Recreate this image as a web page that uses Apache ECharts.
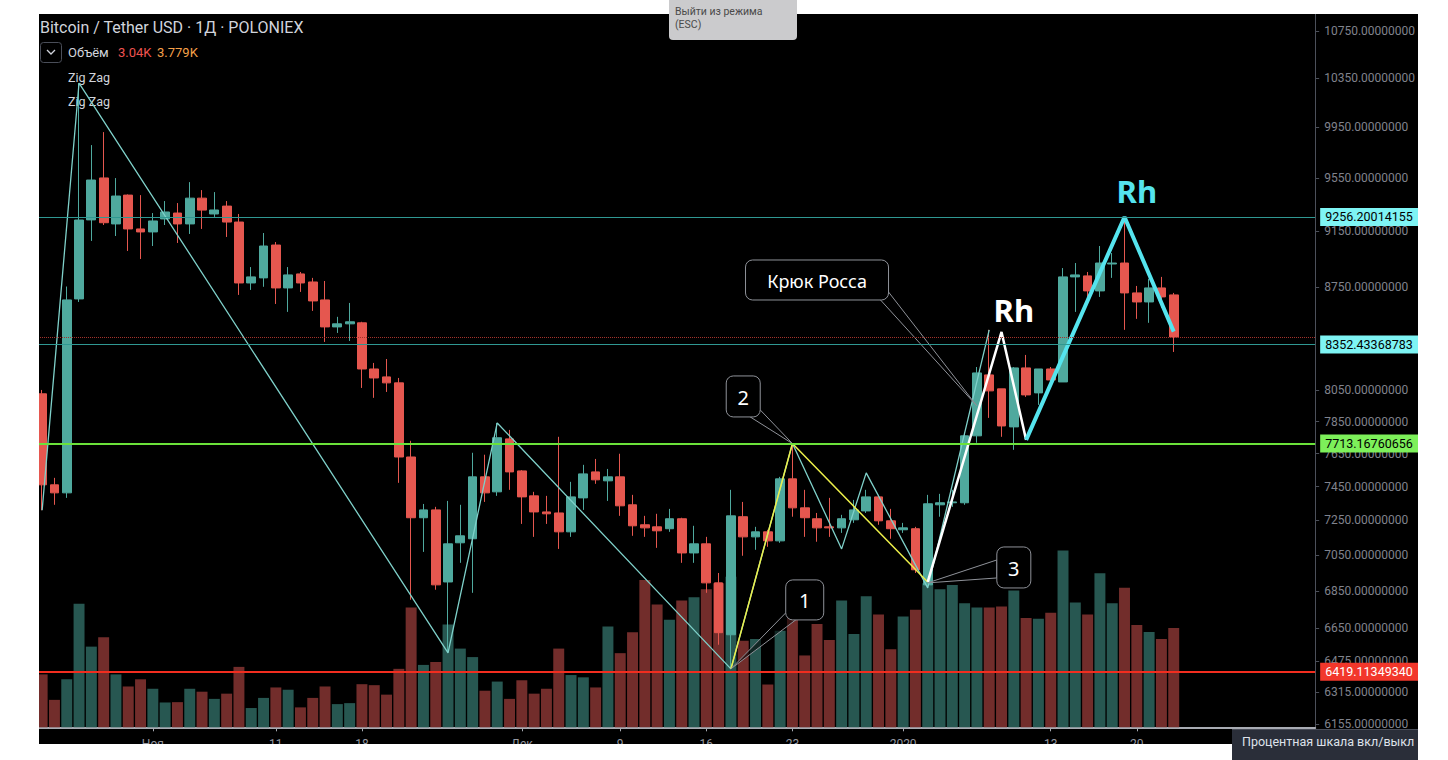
<!DOCTYPE html>
<html><head><meta charset="utf-8">
<script src="https://cdn.jsdelivr.net/npm/echarts@6/dist/echarts.min.js"></script>
<style>
html,body{margin:0;padding:0;background:#fff;width:1448px;height:760px;overflow:hidden;font-family:Roboto,"Noto Sans",sans-serif}
#pane{position:absolute;left:39px;top:14px;width:1379px;height:730px;overflow:hidden;background:#000}
#chart{position:absolute;left:-3px;top:0;width:1382px;height:760px}
#esc{position:absolute;left:669px;top:0;width:128px;height:40px;background:#cbcbcd;border-radius:0 0 4px 4px;color:#4a4a4a;font-size:10.5px;line-height:12.5px;padding:6px 0 0 6px;box-sizing:border-box}
#tip{position:absolute;left:1232px;top:729px;width:186px;height:31px;background:#2a2e39;color:#dfe2ea;font-size:12.5px;line-height:24px;padding-left:10px;box-sizing:border-box;border-top:1px solid #4a4e5a}
</style></head>
<body>
<div id="pane"><div id="chart"></div></div>
<div id="esc">Выйти из режима<br>(ESC)</div>
<div id="tip">Процентная шкала вкл/выкл</div>
<script>
// ---- categories (days shown on the time axis) ----
const dates = [];
(function(){ const s = Date.UTC(2019, 9, 23); for (let i = 0; i < 104; i++) dates.push(new Date(s + i * 864e5).toISOString().slice(0, 10)); })();
const xTickDates  = ['2019-11-01','2019-11-11','2019-11-18','2019-12-01','2019-12-09','2019-12-16','2019-12-23','2020-01-01','2020-01-13','2020-01-20'];
const xTickLabels = ['Ноя','11','18','Дек','9','16','23','2020','13','20'];
const yTickValues = [10750,10350,9950,9550,9150,8750,8050,7850,7650,7450,7250,7050,6850,6650,6475,6315,6155];

// ---- daily candles, Oct 23 2019 .. Jan 23 2020 ----
const opens = [8028,7461,7413,8665,9234,9551,9204,9420,9167,9145,
  9241,9285,9204,9397,9278,9337,9218,8777,8813,9049,
  8742,8841,8784,8658,8472,8493,8500,8190,8138,8099,
  7630,7266,7312,6900,7121,7144,7509,7419,7742,7545,
  7395,7300,7294,7184,7383,7539,7485,7509,7342,7225,
  7213,7202,7260,7063,7115,6895,6613,7272,7155,7184,
  7132,7497,7324,7260,7213,7207,7254,7306,7389,7248,
  7196,7202,6884,7342,7354,7354,7761,8151,8060,7817,
  8197,8034,8190,8105,8820,8827,8721,8912,8919,8707,
  8644,8742,8693];
const highs = [8053,7503,8752,10309,9807,9910,9550,9425,9420,9285,
  9375,9360,9519,9458,9443,9375,9278,8890,9137,9071,
  8890,8855,8813,8791,8541,8637,8507,8230,8256,8131,
  7730,7347,7330,7365,7342,7656,7644,7842,7798,7550,
  7419,7395,7755,7479,7582,7618,7557,7650,7401,7277,
  7289,7318,7266,7219,7155,6950,7431,7359,7213,7196,
  7509,7713,7431,7294,7383,7283,7371,7431,7401,7318,
  7236,7213,7401,7407,7431,7780,8203,8452,8060,8203,
  8283,8190,8203,8883,8919,8855,9042,8991,9256,8756,
  8806,8820,8707];
const lows = [7310,7342,7383,8644,9079,9196,9115,9006,8948,9042,
  9196,9064,9130,9167,9256,9108,8693,8728,8750,8630,
  8575,8714,8582,8370,8431,8377,8066,8002,8040,7473,
  6802,7069,6857,6517,7007,6840,7359,7395,7431,7230,
  7155,7230,7086,7155,7312,7467,7365,7277,7161,7155,
  7092,7184,7007,7007,6840,6560,6434,7047,7081,7098,
  7121,7272,7155,7127,7155,7178,7236,7294,7225,7144,
  7178,6950,6867,7272,7330,7342,7718,7874,7755,7674,
  8008,7957,8105,8105,8575,8679,8679,8813,8452,8527,
  8500,8603,8303];
const closes = [7461,7413,8658,9233,9535,9213,9413,9167,9145,9226,
  9293,9204,9397,9307,9308,9218,8777,8820,9042,8742,
  8834,8777,8651,8472,8493,8507,8190,8131,8099,7630,
  7266,7312,6884,7115,7161,7509,7413,7749,7539,7389,
  7300,7289,7184,7389,7527,7491,7509,7336,7219,7207,
  7190,7260,7063,7115,6895,6624,7277,7155,7184,7132,
  7497,7324,7266,7207,7207,7260,7312,7389,7248,7202,
  7207,6968,7348,7354,7359,7761,8164,8047,7823,8197,
  8021,8190,8118,8820,8834,8721,8919,8919,8707,8644,
  8742,8679,8404];
// volume, thousands
const volumes = [1.62,0.84,1.47,3.78,2.47,2.76,1.62,1.25,1.47,1.18,
  0.76,0.77,1.18,1.09,0.87,1.03,1.85,0.59,0.90,1.22,
  1.15,0.61,0.90,1.25,0.71,0.74,1.32,1.29,1.00,1.79,
  3.67,1.91,2.00,3.15,2.41,2.15,1.12,1.40,0.87,1.44,
  1.03,1.18,2.41,1.60,1.53,1.22,3.09,2.27,2.91,4.51,
  3.76,3.29,3.88,3.98,4.23,4.41,4.61,2.65,2.70,1.31,
  2.96,3.70,2.20,3.16,2.67,3.88,2.86,4.01,3.45,2.39,
  3.39,3.60,4.41,4.23,4.36,3.80,3.67,3.67,3.70,4.19,
  3.35,3.32,3.51,5.41,3.82,3.45,4.72,3.80,4.27,3.13,
  2.92,2.70,3.04];

// ---- indicator / drawing pivots ----
const zigzagDates  = ['2019-10-23','2019-10-26','2019-11-25','2019-11-29','2019-12-18','2019-12-23','2019-12-27','2019-12-29','2020-01-03','2020-01-08'];
const zigzagPrices = [7310,10309,6517,7842,6434,7713,7086,7533,6867,8452];
const yellowDates  = ['2019-12-18','2019-12-23','2020-01-03'];
const yellowPrices = [6434,7713,6900];
const whiteDates   = ['2020-01-03','2020-01-09','2020-01-11'];
const whitePrices  = [6900,8438,7736];
const cyanDates    = ['2020-01-11','2020-01-19','2020-01-23'];
const cyanPrices   = [7736,9256,8440];
const levelValues  = [9256.20014155, 8352.43368783, 7713.16760656, 6419.11349340];
const lastPrice    = 8404;
const calloutTexts = ['1','2','3','Крюк Росса'];
const calloutAnchorDates  = ['2019-12-18','2019-12-23','2020-01-03','2020-01-07'];
const calloutAnchorPrices = [6434,7713,6895,7950];
const calloutBoxDates     = ['2019-12-24','2019-12-19','2020-01-10','2019-12-25'];
const calloutBoxPrices    = [6801,8011,6981,8798];
const rhTexts  = ['Rh','Rh'];
const rhDates  = ['2020-01-10','2020-01-20'];
const rhPrices = [8589,9451];

// ---- styles ----
const UP = '#4fa99e', DOWN = '#e5574f', VUP = '#275751', VDOWN = '#722d2b';
const FONT = 'Roboto, "Noto Sans", sans-serif';
const levelStyles = [
  {line:'#2f9892', w:1, bg:'#7ef4f4', fg:'#000'},
  {line:'#2f9892', w:1, bg:'#7ef4f4', fg:'#000'},
  {line:'#6be23a', w:2, bg:'#7df05a', fg:'#000'},
  {line:'#f22d1f', w:2, bg:'#f2372b', fg:'#fff'}
];
const rhColors = ['#ffffff', '#55e4ee'];
const calloutShapes = [
  {w:38, h:40, fs:20, base:[[0,33],[10,40]]},
  {w:34, h:41, fs:20, base:[[34,34],[24,41]]},
  {w:34, h:41, fs:20, base:[[0,13],[0,31]]},
  {w:143, h:40, fs:18, base:[[135,40],[143,32]]}
];

const candleData = opens.map((o, i) => [o, closes[i], lows[i], highs[i]]);
const volData = volumes.map((v, i) => ({value: v, itemStyle: {color: closes[i] >= opens[i] ? VUP : VDOWN}}));
const pairs = (ds, ps) => ds.map((d, i) => [d, ps[i]]);
const tickShown = (idx, val) => xTickDates.indexOf(val) >= 0;

const markData = levelValues.map((v, i) => ({
  yAxis: v,
  lineStyle: {color: levelStyles[i].line, width: levelStyles[i].w, type: 'solid'},
  label: {show: true, position: 'end', distance: 5, formatter: v.toFixed(8),
    backgroundColor: levelStyles[i].bg, color: levelStyles[i].fg, fontSize: 12.5, fontFamily: FONT,
    padding: [3, 6, 2, 5], align: 'left'}
}));
markData.unshift({yAxis: lastPrice, lineStyle: {color: '#a3322b', width: 1, type: 'dotted'}, label: {show: false}});

function renderCallout(params, api) {
  const i = params.dataIndex, s = calloutShapes[i];
  const a = api.coord([api.value(0), api.value(1)]);
  const c = api.coord([api.value(2), api.value(3)]);
  const x0 = c[0] - s.w / 2, y0 = c[1] - s.h / 2;
  const b1 = [x0 + s.base[0][0], y0 + s.base[0][1]], b2 = [x0 + s.base[1][0], y0 + s.base[1][1]];
  return {type: 'group', children: [
    {type: 'polygon', shape: {points: [b1, a, b2]}, style: {fill: 'rgba(0,0,0,0.55)', stroke: '#8f9299', lineWidth: 1}},
    {type: 'rect', shape: {x: x0, y: y0, width: s.w, height: s.h, r: 7}, style: {fill: '#000', stroke: '#8f9299', lineWidth: 1}},
    {type: 'text', x: c[0], y: c[1] + 1, style: {text: calloutTexts[i], fill: '#fff', font: s.fs + 'px "Noto Sans"', align: 'center', verticalAlign: 'middle'}}
  ]};
}
function renderRh(params, api) {
  const i = params.dataIndex;
  const p = api.coord([api.value(0), api.value(1)]);
  return {type: 'text', x: p[0], y: p[1], style: {text: rhTexts[i], fill: rhColors[i], font: 'bold 31px "Noto Sans"', align: 'center', verticalAlign: 'middle'}};
}

const chart = echarts.init(document.getElementById('chart'), null, {renderer: 'svg'});
chart.setOption({
  animation: false,
  backgroundColor: '#000',
  textStyle: {fontFamily: FONT},
  grid: {left: 0, right: 97, top: 0, bottom: 46.7},
  xAxis: {
    type: 'category', data: dates, boundaryGap: true,
    axisLine: {show: true, lineStyle: {color: '#a8abb3', width: 2}},
    axisTick: {show: true, interval: tickShown, alignWithLabel: true, length: 4, lineStyle: {color: '#a8abb3'}},
    axisLabel: {interval: tickShown, formatter: v => xTickLabels[xTickDates.indexOf(v)], color: '#9598a1', fontSize: 12, margin: 11},
    splitLine: {show: false}
  },
  yAxis: [
    {type: 'log', logBase: 10, position: 'right', min: 6138.4, max: 10898,
      axisLine: {show: true, lineStyle: {color: '#4c505a'}},
      axisTick: {show: true, length: 4, customValues: yTickValues, lineStyle: {color: '#4c505a'}},
      axisLabel: {customValues: yTickValues, formatter: v => Number(v).toFixed(8), color: '#80838d', fontSize: 12, margin: 9},
      splitLine: {show: false}},
    {type: 'value', min: 0, max: 21.84, show: false, splitLine: {show: false}}
  ],
  graphic: [
    {type: 'text', x: 4, y: 13, style: {text: 'Bitcoin / Tether USD · 1Д · POLONIEX', fill: '#d1d4dc', font: '16px Roboto', verticalAlign: 'middle'}},
    {type: 'rect', shape: {x: 4.5, y: 28.5, width: 21, height: 20, r: 3}, style: {fill: 'none', stroke: '#4a4e59', lineWidth: 1}},
    {type: 'polyline', shape: {points: [[11, 36], [15, 40], [19, 36]]}, style: {stroke: '#d1d4dc', lineWidth: 1.3, fill: 'none'}},
    {type: 'text', x: 32, y: 38, style: {text: 'Объём', fill: '#d1d4dc', font: '13px Roboto', verticalAlign: 'middle'}},
    {type: 'text', x: 82, y: 38, style: {text: '3.04K', fill: '#ef5350', font: '13px Roboto', verticalAlign: 'middle'}},
    {type: 'text', x: 121, y: 38, style: {text: '3.779K', fill: '#f5a04a', font: '13px Roboto', verticalAlign: 'middle'}},
    {type: 'text', x: 32, y: 63, style: {text: 'Zig Zag', fill: '#d1d4dc', font: '12.5px Roboto', verticalAlign: 'middle'}},
    {type: 'text', x: 32, y: 87, style: {text: 'Zig Zag', fill: '#d1d4dc', font: '12.5px Roboto', verticalAlign: 'middle'}}
  ],
  series: [
    {type: 'bar', name: 'Объём', xAxisIndex: 0, yAxisIndex: 1, data: volData, barWidth: '89%', z: 1, silent: true},
    {type: 'candlestick', name: 'BTCUSDT', yAxisIndex: 0, data: candleData, barWidth: '75%', z: 2,
      itemStyle: {color: UP, color0: DOWN, borderColor: UP, borderColor0: DOWN, borderWidth: 1},
      markLine: {silent: true, symbol: ['none', 'none'], z: 10, data: markData}},
    {type: 'line', name: 'Zig Zag', yAxisIndex: 0, data: pairs(zigzagDates, zigzagPrices), symbol: 'none', z: 3,
      lineStyle: {color: '#7fd1ca', width: 1.3}},
    {type: 'line', name: 'yellow', yAxisIndex: 0, data: pairs(yellowDates, yellowPrices), symbol: 'none', z: 4,
      lineStyle: {color: '#ecef4a', width: 1.5}},
    {type: 'line', name: 'white', yAxisIndex: 0, data: pairs(whiteDates, whitePrices), symbol: 'none', z: 4,
      lineStyle: {color: '#ffffff', width: 2.5}},
    {type: 'line', name: 'cyan', yAxisIndex: 0, data: pairs(cyanDates, cyanPrices), symbol: 'none', z: 4,
      lineStyle: {color: '#55e4ee', width: 4}},
    {type: 'custom', name: 'callouts', yAxisIndex: 0, renderItem: renderCallout, clip: false, z: 6, silent: true,
      encode: {x: [0, 2], y: [1, 3]},
      data: calloutTexts.map((t, i) => [dates.indexOf(calloutAnchorDates[i]), calloutAnchorPrices[i], dates.indexOf(calloutBoxDates[i]), calloutBoxPrices[i]])},
    {type: 'custom', name: 'Rh', yAxisIndex: 0, renderItem: renderRh, clip: false, z: 7, silent: true,
      encode: {x: 0, y: 1},
      data: rhDates.map((d, i) => [dates.indexOf(d), rhPrices[i]])}
  ]
});
</script>
</body></html>
